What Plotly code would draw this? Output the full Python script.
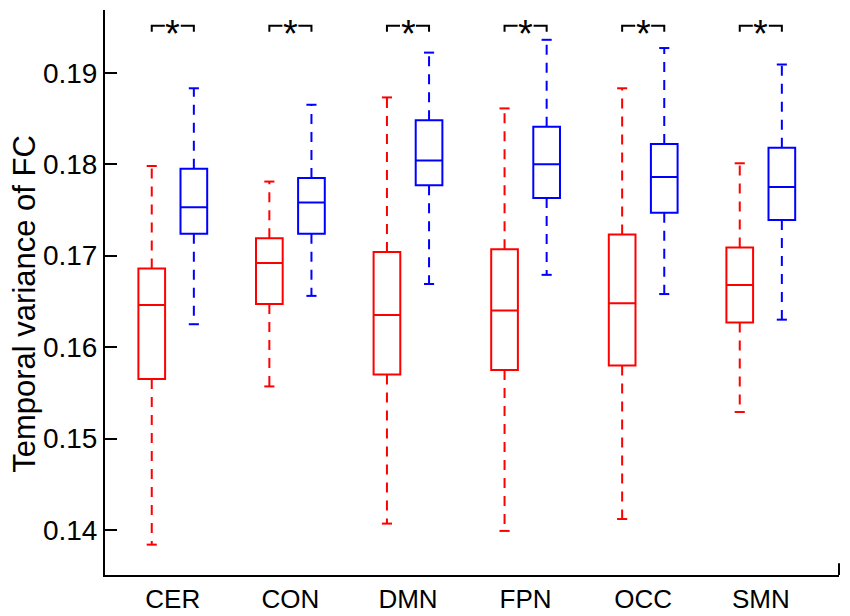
import plotly.graph_objects as go

# networks on the x axis
categories = ["CER", "CON", "DMN", "FPN", "OCC", "SMN"]

# red group (box stats)
red_lower = [0.1384, 0.1557, 0.1407, 0.1399, 0.1412, 0.1529]
red_q1 = [0.1565, 0.1647, 0.1570, 0.1575, 0.1580, 0.1627]
red_median = [0.1646, 0.1692, 0.1635, 0.1640, 0.1648, 0.1668]
red_q3 = [0.1686, 0.1719, 0.1704, 0.1707, 0.1723, 0.1709]
red_upper = [0.1798, 0.1781, 0.1873, 0.1861, 0.1883, 0.1801]

# blue group
blue_lower = [0.1625, 0.1656, 0.1669, 0.1679, 0.1658, 0.1630]
blue_q1 = [0.1724, 0.1724, 0.1777, 0.1763, 0.1747, 0.1739]
blue_median = [0.1753, 0.1758, 0.1804, 0.1800, 0.1786, 0.1775]
blue_q3 = [0.1795, 0.1785, 0.1848, 0.1841, 0.1822, 0.1818]
blue_upper = [0.1883, 0.1865, 0.1922, 0.1936, 0.1927, 0.1909]

# significance marks, one per network
sig_labels = ["*", "*", "*", "*", "*", "*"]
sig_level = 0.19514

FONT = "Liberation Sans, Arial, sans-serif"
OFF = 0.179      # half distance between paired boxes
BOXW = 0.227
CAPW = 0.043
xs = list(range(1, len(categories) + 1))

fig = go.Figure()


def add_group(offset, lower, q1, med, q3, upper, color):
    pos = [x + offset for x in xs]
    fig.add_trace(go.Box(
        x=pos, q1=q1, median=med, q3=q3, lowerfence=q1, upperfence=q3,
        width=BOXW, line=dict(color=color, width=2),
        fillcolor="rgba(0,0,0,0)", showlegend=False, hoverinfo="skip"))
    wx, wy, cx, cy = [], [], [], []
    for p, lo, a, b, hi in zip(pos, lower, q1, q3, upper):
        wx += [p, p, None, p, p, None]
        wy += [b, hi, None, a, lo, None]
        cx += [p - CAPW, p + CAPW, None, p - CAPW, p + CAPW, None]
        cy += [hi, hi, None, lo, lo, None]
    fig.add_trace(go.Scatter(x=wx, y=wy, mode="lines",
                             line=dict(color=color, width=2, dash="10px,8px"),
                             showlegend=False, hoverinfo="skip"))
    fig.add_trace(go.Scatter(x=cx, y=cy, mode="lines",
                             line=dict(color=color, width=2),
                             showlegend=False, hoverinfo="skip"))


add_group(-OFF, red_lower, red_q1, red_median, red_q3, red_upper, "#ff0000")
add_group(OFF, blue_lower, blue_q1, blue_median, blue_q3, blue_upper, "#0000ff")

# brackets with a gap for the star
drop = 0.00066
gap = 0.068
bx, by = [], []
for x in xs:
    bx += [x - OFF, x - OFF, x - gap, None, x + gap, x + OFF, x + OFF, None]
    by += [sig_level - drop, sig_level, sig_level, None,
           sig_level, sig_level, sig_level - drop, None]
fig.add_trace(go.Scatter(x=bx, y=by, mode="lines",
                         line=dict(color="black", width=2),
                         showlegend=False, hoverinfo="skip"))
for x, s in zip(xs, sig_labels):
    fig.add_annotation(x=x, y=sig_level, text=s, showarrow=False,
                       font=dict(family=FONT, size=38, color="black"),
                       yanchor="middle", yshift=-8)

fig.add_annotation(xref="paper", yref="paper", x=-0.109, y=0.48,
                   text="Temporal variance of FC", textangle=-90,
                   showarrow=False, xanchor="center", yanchor="middle",
                   font=dict(family=FONT, size=31, color="black"))

# little stub at the right end of the x axis
fig.add_shape(type="line", xref="paper", yref="paper",
              x0=1, x1=1, y0=0, y1=0.021,
              line=dict(color="black", width=2))

# the page body adds 8px, so margins are shifted by that much
fig.update_layout(
    width=850, height=616,
    margin=dict(l=97, r=19, t=2, b=49),
    paper_bgcolor="white", plot_bgcolor="white",
    font=dict(family=FONT, color="black"),
    boxmode="overlay",
    xaxis=dict(range=[0.4235, 6.665], tickvals=xs, ticktext=categories,
               ticks="", showline=True, linecolor="black", linewidth=2,
               showgrid=False, zeroline=False, tickfont=dict(size=26)),
    yaxis=dict(range=[0.13508, 0.19686],
               tickvals=[0.14, 0.15, 0.16, 0.17, 0.18, 0.19],
               ticktext=["0.14", "0.15", "0.16", "0.17", "0.18", "0.19"],
               ticks="inside", ticklen=12, tickwidth=2, tickcolor="black",
               showline=True, linecolor="black", linewidth=2,
               showgrid=False, zeroline=False, tickfont=dict(size=28)),
)

fig.write_html("out.html")
